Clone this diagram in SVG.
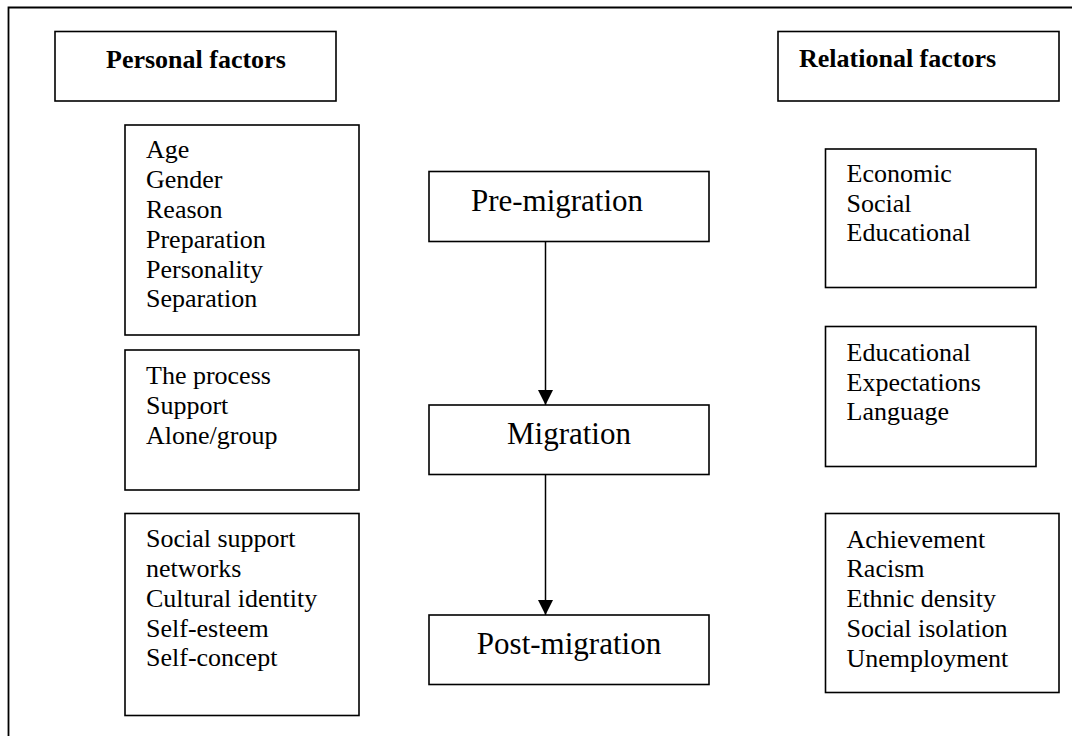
<svg xmlns="http://www.w3.org/2000/svg" width="1072" height="736" viewBox="0 0 1072 736">
<defs>
<style>
.box{fill:#fff;stroke:#000;stroke-width:1.6}
.t{font-family:"Liberation Serif","Times New Roman",serif;font-size:26px;fill:#000}
.b{font-weight:bold}
.c{font-family:"Liberation Serif","Times New Roman",serif;font-size:31px;fill:#000;text-anchor:middle}
.conn{stroke:#000;stroke-width:1.5;fill:none}
</style>
<marker id="arr" markerWidth="15" markerHeight="15" refX="15" refY="7.5" orient="auto" markerUnits="userSpaceOnUse">
<path d="M0,0 L15,7.5 L0,15 Z" fill="#000"/>
</marker>
</defs>
<rect width="1072" height="736" fill="#fff"/>
<path d="M8.5,736 V7.5 H1072" fill="none" stroke="#000" stroke-width="1.8"/>
<g id="personal-factors">
<rect class="box" x="55" y="31.5" width="281" height="69.5"/>
<text class="t b" x="106" y="67.5">Personal factors</text>
</g>
<g id="relational-factors">
<rect class="box" x="778" y="31.5" width="281" height="69.5"/>
<text class="t b" x="799" y="66.5">Relational factors</text>
</g>
<g id="personal-pre">
<rect class="box" x="125" y="125" width="234" height="210"/>
<text class="t" x="146"><tspan x="146" y="158">Age</tspan><tspan x="146" y="188">Gender</tspan><tspan x="146" y="218">Reason</tspan><tspan x="146" y="248">Preparation</tspan><tspan x="146" y="277.5">Personality</tspan><tspan x="146" y="307">Separation</tspan></text>
</g>
<g id="personal-mig">
<rect class="box" x="125" y="350" width="234" height="140"/>
<text class="t"><tspan x="146" y="383.5">The process</tspan><tspan x="146" y="413.5">Support</tspan><tspan x="146" y="443.5">Alone/group</tspan></text>
</g>
<g id="personal-post">
<rect class="box" x="125" y="513.5" width="234" height="202"/>
<text class="t"><tspan x="146" y="546.5">Social support</tspan><tspan x="146" y="576.5">networks</tspan><tspan x="146" y="606.5">Cultural identity</tspan><tspan x="146" y="636.5">Self-esteem</tspan><tspan x="146" y="666">Self-concept</tspan></text>
</g>
<g id="pre-migration">
<rect class="box" x="429" y="171.5" width="280" height="70"/>
<text class="c" x="557" y="211">Pre-migration</text>
</g>
<g id="migration">
<rect class="box" x="429" y="405" width="280" height="69.5"/>
<text class="c" x="569" y="444">Migration</text>
</g>
<g id="post-migration">
<rect class="box" x="429" y="615" width="280" height="69.5"/>
<text class="c" x="569" y="653.5">Post-migration</text>
</g>
<g id="relational-pre">
<rect class="box" x="825.5" y="149" width="210.5" height="138.5"/>
<text class="t"><tspan x="846.5" y="181.5">Economic</tspan><tspan x="846.5" y="211.5">Social</tspan><tspan x="846.5" y="241">Educational</tspan></text>
</g>
<g id="relational-mig">
<rect class="box" x="825.5" y="326.5" width="210.5" height="140"/>
<text class="t"><tspan x="846.5" y="361">Educational</tspan><tspan x="846.5" y="390.5">Expectations</tspan><tspan x="846.5" y="420">Language</tspan></text>
</g>
<g id="relational-post">
<rect class="box" x="825.5" y="513.5" width="233.5" height="179"/>
<text class="t"><tspan x="846.5" y="547.5">Achievement</tspan><tspan x="846.5" y="577">Racism</tspan><tspan x="846.5" y="606.5">Ethnic density</tspan><tspan x="846.5" y="636.5">Social isolation</tspan><tspan x="846.5" y="666.5">Unemployment</tspan></text>
</g>
<g id="connectors">
<line class="conn" x1="545.5" y1="242" x2="545.5" y2="405" marker-end="url(#arr)"/>
<line class="conn" x1="545.5" y1="475" x2="545.5" y2="615" marker-end="url(#arr)"/>
</g>
</svg>
